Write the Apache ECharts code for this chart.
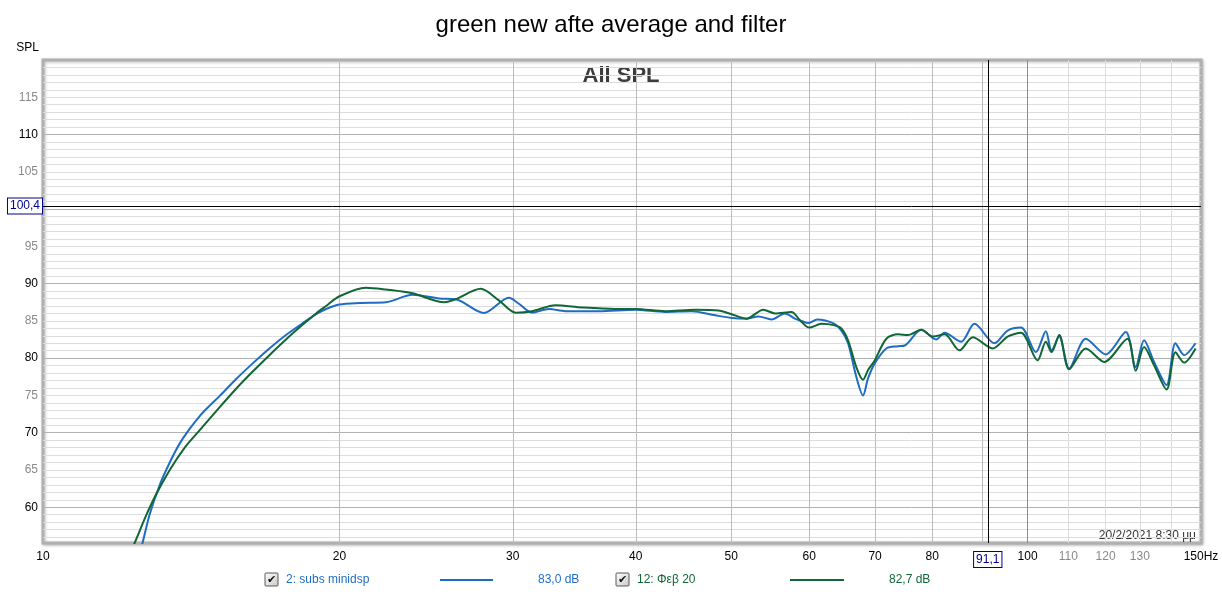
<!DOCTYPE html>
<html>
<head>
<meta charset="utf-8">
<script src="https://cdn.jsdelivr.net/npm/echarts@6/dist/echarts.min.js"></script>
<style>html,body{margin:0;padding:0;background:#fff}#c{width:1222px;height:596px}</style>
</head>
<body>
<div id="c"></div>
<script>
// ---- data ----
var blueFreq = [12.57,12.62,12.83,13.14,13.45,13.76,14.09,14.42,14.76,15.11,15.71,16.33,16.98,17.65,18.36,18.94,19.39,20.0,20.96,22.30,23.73,25.25,26.25,28.04,29.73,30.43,31.39,32.64,33.93,36.67,39.96,42.84,45.60,48.15,50.05,51.83,53.27,54.95,56.69,58.03,58.93,59.85,61.15,63.45,64.69,65.71,66.99,68.05,68.86,69.94,71.86,73.86,75.03,77.98,80.75,82.35,85.59,88.31,92.53,95.43,98.45,101.95,104.35,105.75,107.67,110.21,114.57,120.05,125.8,128.75,131.3,134.4,138.4,141.3,144.2,148.1];
var blueSpl  = [54.5,55.2,59.0,63.0,66.0,68.5,70.5,72.2,73.6,74.9,77.2,79.3,81.3,83.1,84.7,85.9,86.6,87.2,87.4,87.5,88.5,88.0,87.9,86.05,88.1,87.3,86.1,86.6,86.3,86.3,86.5,86.2,86.3,85.75,85.4,85.3,85.6,85.2,86.0,85.3,85.0,84.7,85.2,84.7,83.7,82.0,77.5,75.0,77.3,79.3,81.3,81.6,81.7,83.8,82.5,83.4,82.2,84.6,82.0,83.7,84.1,80.8,83.6,81.05,82.9,78.6,82.6,80.5,83.5,78.8,82.4,79.5,76.4,82.0,80.4,82.0];
var greenFreq = [12.31,12.39,12.69,12.99,13.45,13.93,14.42,15.11,15.71,16.33,16.98,17.65,18.36,18.94,19.39,20.0,21.28,22.30,23.73,25.55,26.25,27.83,29.04,30.20,31.39,33.15,35.27,38.13,39.96,42.84,45.96,48.52,50.05,51.83,53.89,55.39,57.57,58.71,60.0,61.75,63.70,64.69,65.71,66.99,68.05,68.86,69.94,71.86,73.86,75.60,77.98,80.13,82.35,85.28,87.96,92.15,95.43,98.45,102.35,104.35,105.75,107.67,110.21,114.57,119.6,126.3,128.75,131.3,134.4,138.4,141.3,144.2,148.1];
var greenSpl  = [54.5,55.2,58.5,61.4,65.0,68.0,70.3,73.4,75.9,78.2,80.4,82.5,84.5,86.0,87.0,88.3,89.45,89.2,88.7,87.5,87.9,89.3,87.75,86.1,86.3,87.1,86.8,86.6,86.6,86.3,86.5,86.4,85.9,85.3,86.5,86.0,86.2,85.1,84.1,84.6,84.4,84.0,82.4,78.8,77.1,78.4,79.7,82.6,83.2,83.1,83.8,82.9,83.2,81.05,82.8,81.3,82.9,83.4,79.7,82.2,80.8,83.1,78.5,81.3,79.5,82.6,78.3,81.5,79.05,75.8,80.8,79.4,81.3];
var seriesNames = ['2: subs minidsp', '12: Φεβ 20'];
var seriesLevels = ['83,0 dB', '82,7 dB'];
var xGridValues = [20,30,40,50,60,70,80,90,100,110,120,130,140];
var xLabelValues = [10,20,30,40,50,60,70,80,100,110,120,130,150];
var yGridValues = [56,57,58,59,60,61,62,63,64,65,66,67,68,69,70,71,72,73,74,75,76,77,78,79,80,81,82,83,84,85,86,87,88,89,90,91,92,93,94,95,96,97,98,99,100,101,102,103,104,105,106,107,108,109,110,111,112,113,114,115,116,117,118,119];
var yLabelValues = [60,65,70,75,80,85,90,95,105,110,115];
var cursorFreq = 91.1, cursorSpl = 100.4;

var FONT = 'Liberation Sans, Arial, sans-serif';
var BLUE = '#1f6dc2', GREEN = '#116636';

var xGridColors = xGridValues.map(function(v){ return v === 100 ? '#8e8e8e' : (v > 100 ? '#dcdcdc' : '#bdbdbd'); });
var yGridColors = yGridValues.map(function(v){ return v % 10 === 0 ? '#b2b2b2' : '#dddddd'; });

function pairs(fs, ds){ return fs.map(function(f,i){ return [f, ds[i]]; }); }

function checkbox(x, y){
  return [
    {type:'rect', shape:{x:x, y:y, width:13, height:13, r:1}, style:{fill:{type:'linear',x:0,y:0,x2:1,y2:1,colorStops:[{offset:0,color:'#ffffff'},{offset:1,color:'#c8c8c8'}]}, stroke:'#5a5a5a', lineWidth:1}},
    {type:'text', x:x+6.5, y:y+7, style:{text:'✔', fill:'#111', font:'bold 11px DejaVu Sans', align:'center', verticalAlign:'middle'}}
  ];
}

var graphics = [
  {type:'text', x:621, y:76, style:{text:'All SPL', fill:'#3c3c3c', font:'bold 22px ' + FONT, align:'center', verticalAlign:'middle'}},
  {type:'text', x:1196, y:536, style:{text:'20/2/2021 8:30 μμ', fill:'#333', font:'12px ' + FONT, align:'right', verticalAlign:'middle'}},
  {type:'text', x:286, y:580, style:{text:seriesNames[0], fill:BLUE, font:'12px ' + FONT, verticalAlign:'middle'}},
  {type:'line', shape:{x1:440, y1:580, x2:493, y2:580}, style:{stroke:BLUE, lineWidth:2}},
  {type:'text', x:538, y:580, style:{text:seriesLevels[0], fill:BLUE, font:'12px ' + FONT, verticalAlign:'middle'}},
  {type:'text', x:637, y:580, style:{text:seriesNames[1], fill:GREEN, font:'12px ' + FONT, verticalAlign:'middle'}},
  {type:'line', shape:{x1:790, y1:580, x2:844, y2:580}, style:{stroke:GREEN, lineWidth:2}},
  {type:'text', x:889, y:580, style:{text:seriesLevels[1], fill:GREEN, font:'12px ' + FONT, verticalAlign:'middle'}}
].concat(checkbox(265, 573)).concat(checkbox(616, 573));

var chart = echarts.init(document.getElementById('c'), null, {renderer:'canvas'});
chart.setOption({
  animation:false,
  backgroundColor:'#fff',
  title:{text:'green new afte average and filter', left:'center', top:8, textStyle:{fontSize:24, fontWeight:'normal', color:'#000', fontFamily:FONT}},
  grid:{left:43, right:21, top:60, bottom:53, show:true, backgroundColor:'#fff', borderColor:'#b0b0b0', borderWidth:3, shadowBlur:3, shadowColor:'rgba(0,0,0,0.25)', shadowOffsetX:1, shadowOffsetY:1},
  xAxis:{
    type:'log', logBase:10, min:10, max:150,
    axisLine:{show:false},
    axisTick:{show:false, customValues:xGridValues},
    splitLine:{show:true, lineStyle:{color:xGridColors, width:1}},
    minorSplitLine:{show:false},
    axisLabel:{
      customValues:xLabelValues, margin:8, fontFamily:FONT, fontSize:12,
      formatter:function(v){ v = Math.round(v); if (v === 150) return '{k|150Hz}'; return (v > 100 ? '{g|' : '{k|') + v + '}'; },
      rich:{k:{color:'#000', fontSize:12, fontFamily:FONT}, g:{color:'#8a8a8a', fontSize:12, fontFamily:FONT}}
    }
  },
  yAxis:{
    type:'value', min:55.2, max:120,
    name:'SPL', nameLocation:'end', nameGap:6,
    nameTextStyle:{color:'#000', fontSize:12, fontFamily:FONT, align:'right', padding:[0,4,0,0]},
    axisLine:{show:false},
    axisTick:{show:false, customValues:yGridValues},
    splitLine:{show:true, lineStyle:{color:yGridColors, width:1}},
    axisLabel:{
      customValues:yLabelValues, margin:5, fontFamily:FONT, fontSize:12,
      formatter:function(v){ v = Math.round(v); return (v % 10 === 0 ? '{k|' : '{g|') + v + '}'; },
      rich:{k:{color:'#000', fontSize:12, fontFamily:FONT}, g:{color:'#8a8a8a', fontSize:12, fontFamily:FONT}}
    }
  },
  series:[
    {name:seriesNames[0], type:'line', data:pairs(blueFreq, blueSpl), showSymbol:false, smooth:0.3, lineStyle:{color:BLUE, width:2}, itemStyle:{color:BLUE}, z:3,
     markLine:{silent:true, symbol:'none', animation:false,
       lineStyle:{color:'#000', width:1, type:'solid'},
       data:[
         {xAxis:cursorFreq, label:{show:true, position:'start', distance:9, formatter:'91,1', color:'#00008b', fontSize:12, fontFamily:FONT, backgroundColor:'#fff', borderColor:'#00008b', borderWidth:1, padding:[2,2,1,2]}},
         {yAxis:cursorSpl, label:{show:true, position:'start', distance:1, formatter:'100,4', color:'#00008b', fontSize:12, fontFamily:FONT, backgroundColor:'#fff', borderColor:'#00008b', borderWidth:1, padding:[2,2,1,2]}}
       ]}},
    {name:seriesNames[1], type:'line', data:pairs(greenFreq, greenSpl), showSymbol:false, smooth:0.3, lineStyle:{color:GREEN, width:2}, itemStyle:{color:GREEN}, z:4}
  ],
  graphic:graphics
});
</script>
</body>
</html>
